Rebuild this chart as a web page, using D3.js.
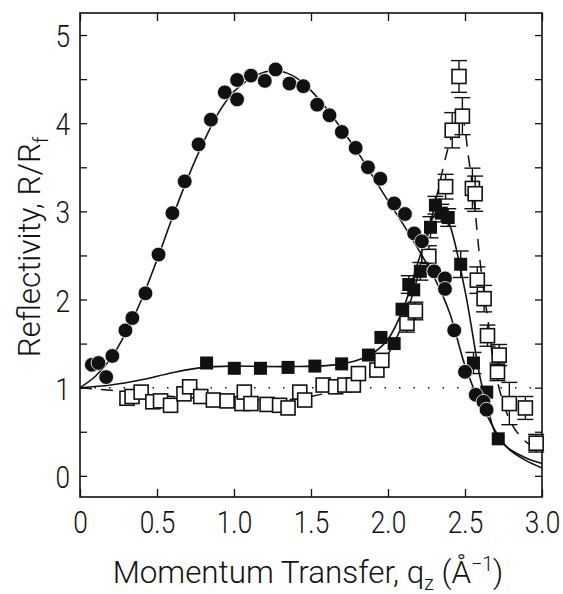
<!DOCTYPE html>
<html>
<head>
<meta charset="utf-8">
<script src="https://cdn.jsdelivr.net/npm/d3@7"></script>
<style>
  body { margin: 0; background: #fff; }
  text { font-family: Roboto, "DejaVu Sans", sans-serif; font-weight: 300; fill: #111; }
</style>
</head>
<body>
<div id="chart"></div>
<script>
// filled circles (sample 1) and its fit
var qCircle = [0.077, 0.12, 0.17, 0.21, 0.295, 0.34, 0.425, 0.51, 0.60, 0.68, 0.77, 0.85, 0.94, 1.02, 1.02, 1.11,
  1.20, 1.27, 1.36, 1.45, 1.54, 1.62, 1.70, 1.79, 1.87, 1.95, 2.04, 2.11, 2.17, 2.22, 2.30, 2.37, 2.37, 2.43,
  2.50, 2.57, 2.62, 2.64];
var rCircle = [1.26, 1.28, 1.12, 1.36, 1.65, 1.79, 2.07, 2.51, 2.98, 3.34, 3.76, 4.04, 4.35, 4.27, 4.49, 4.54,
  4.48, 4.61, 4.45, 4.42, 4.21, 4.09, 3.90, 3.72, 3.50, 3.37, 3.09, 2.97, 2.75, 2.66, 2.32, 2.24, 2.12, 1.65,
  1.18, 0.92, 0.84, 0.75];
var qCircleFit = [0, 0.1, 0.2, 0.3, 0.4, 0.5, 0.6, 0.7, 0.8, 0.9, 1.0, 1.1, 1.2, 1.3, 1.4, 1.5, 1.6, 1.7, 1.8,
  1.9, 2.0, 2.1, 2.2, 2.3, 2.4, 2.5, 2.6, 2.65, 2.7, 2.75, 2.8, 2.9, 3.0];
var rCircleFit = [1.0, 1.13, 1.33, 1.63, 2.0, 2.45, 2.93, 3.38, 3.78, 4.12, 4.36, 4.50, 4.58, 4.59, 4.52, 4.37,
  4.17, 3.93, 3.68, 3.40, 3.12, 2.85, 2.56, 2.25, 1.85, 1.25, 0.82, 0.66, 0.50, 0.37, 0.28, 0.17, 0.09];

// filled squares (sample 2) and its fit
var qSquare = [0.822, 1.002, 1.172, 1.351, 1.525, 1.699, 1.873, 1.954, 2.04, 2.091, 2.135, 2.167, 2.21, 2.276,
  2.308, 2.346, 2.391, 2.472, 2.555, 2.641, 2.716];
var rSquare = [1.28, 1.22, 1.22, 1.23, 1.245, 1.27, 1.37, 1.57, 1.50, 1.89, 2.17, 2.11, 2.32, 2.82,
  3.07, 2.98, 2.93, 2.40, 1.28, 0.95, 0.42];
var eSquare = [0, 0, 0, 0, 0, 0, 0, 0, 0, 0, 0.1, 0, 0.1, 0.12,
  0.1, 0.1, 0.1, 0.15, 0.12, 0, 0];
var qSquareFit = [0, 0.2, 0.4, 0.6, 0.8, 1.0, 1.2, 1.4, 1.6, 1.7, 1.8, 1.9, 2.0, 2.1, 2.2, 2.3, 2.35, 2.4,
  2.5, 2.6, 2.65, 2.7, 2.75, 2.8, 2.9, 3.0];
var rSquareFit = [1.0, 1.03, 1.09, 1.17, 1.23, 1.245, 1.24, 1.24, 1.25, 1.27, 1.31, 1.39, 1.55, 1.9, 2.45, 2.95,
  3.0, 2.85, 2.1, 1.1, 0.75, 0.47, 0.36, 0.29, 0.2, 0.14];

// open squares (sample 3) with error bars, and its dashed fit
var qOpen = [0.305, 0.338, 0.397, 0.473, 0.523, 0.588, 0.675, 0.712, 0.784, 0.866, 0.955, 1.052, 1.067, 1.11,
  1.215, 1.296, 1.351, 1.427, 1.459, 1.579, 1.66, 1.72, 1.775, 1.808, 1.928, 1.96, 2.123, 2.178, 2.265, 2.374,
  2.417, 2.461, 2.483, 2.548, 2.566, 2.58, 2.624, 2.646, 2.711, 2.722, 2.788, 2.892, 2.962];
var rOpen = [0.88, 0.90, 0.95, 0.84, 0.85, 0.80, 0.93, 1.01, 0.90, 0.86, 0.85, 0.82, 0.95, 0.82,
  0.81, 0.80, 0.77, 0.95, 0.86, 1.03, 1.01, 1.03, 1.03, 1.16, 1.20, 1.31, 1.73, 1.87, 2.49, 3.28,
  3.92, 4.53, 4.08, 3.26, 3.20, 2.22, 2.01, 1.59, 1.18, 1.37, 0.82, 0.77, 0.37];
var eOpen = [0, 0, 0, 0, 0, 0, 0, 0, 0, 0, 0, 0, 0, 0,
  0, 0, 0, 0, 0, 0, 0, 0, 0, 0, 0, 0, 0.1, 0.1, 0.12, 0.14,
  0.2, 0.18, 0.21, 0.23, 0.2, 0.15, 0.15, 0.12, 0.1, 0.12, 0.24, 0.13, 0.1];
var qOpenFit = [0, 0.2, 0.4, 0.6, 0.8, 1.0, 1.2, 1.4, 1.5, 1.6, 1.7, 1.8, 1.9, 2.0, 2.1, 2.2, 2.3, 2.4, 2.45,
  2.48, 2.52, 2.56, 2.6, 2.65, 2.7, 2.8, 2.9, 3.0];
var rOpenFit = [1.0, 0.97, 0.93, 0.9, 0.88, 0.87, 0.86, 0.87, 0.9, 0.94, 1.0, 1.08, 1.17, 1.38, 1.75, 2.3,
  3.05, 3.78, 4.02, 4.05, 3.65, 3.1, 2.4, 1.75, 1.15, 0.6, 0.38, 0.3];

var xTicks = [0, 0.5, 1.0, 1.5, 2.0, 2.5, 3.0];
var xTickLabels = ["0", "0.5", "1.0", "1.5", "2.0", "2.5", "3.0"];
var yTicks = [0, 0.5, 1, 1.5, 2, 2.5, 3, 3.5, 4, 4.5, 5];
var yTickLabels = ["0", "", "1", "", "2", "", "3", "", "4", "", "5"];

var W = 563, H = 594;
var pLeft = 80, pRight = 542, pTop = 13, pBottom = 497;
var squeeze = 0.82;    // tick numbers are narrow
var titleSqueeze = 0.98;

var svg = d3.select("#chart").append("svg")
  .attr("width", W).attr("height", H);

var x = d3.scaleLinear().domain([0, 3]).range([pLeft, pRight]);
var y = d3.scaleLinear().domain([-0.24, 5.25]).range([pBottom, pTop]);

function zip(a, b) { return a.map(function(v, i) { return [v, b[i]]; }); }

// axes, ticks inward
var gx = svg.append("g").attr("transform", "translate(0," + pBottom + ")")
  .call(d3.axisBottom(x).tickValues(xTicks).tickSize(-8).tickPadding(14)
    .tickFormat(function(d, i) { return xTickLabels[i]; }));
svg.append("g").attr("transform", "translate(0," + pTop + ")")
  .call(d3.axisTop(x).tickValues(xTicks).tickSize(-8).tickFormat(""));
var gy = svg.append("g").attr("transform", "translate(" + pLeft + ",0)")
  .call(d3.axisLeft(y).tickValues(yTicks).tickSize(-7).tickPadding(10)
    .tickFormat(function(d, i) { return yTickLabels[i]; }));
svg.append("g").attr("transform", "translate(" + pRight + ",0)")
  .call(d3.axisRight(y).tickValues(yTicks).tickSize(-7).tickFormat(""));

svg.selectAll(".domain").remove();
svg.selectAll(".tick line").style("stroke", "#111").style("stroke-width", 1.3);
gx.selectAll(".tick text")
  .style("font-size", "32px")
  .attr("dy", null).attr("y", 0)
  .attr("transform", "translate(0,36) scale(" + squeeze + ",1)");
gy.selectAll(".tick text")
  .style("font-size", "32px")
  .attr("x", 0).attr("dy", "0.36em")
  .attr("transform", "translate(-10,0) scale(" + squeeze + ",1)");

svg.append("rect")
  .attr("x", pLeft).attr("y", pTop)
  .attr("width", pRight - pLeft).attr("height", pBottom - pTop)
  .style("fill", "none").style("stroke", "#111").style("stroke-width", 1.6);

// reference line at R/Rf = 1
svg.append("line")
  .attr("x1", x(0)).attr("x2", x(3)).attr("y1", y(1)).attr("y2", y(1))
  .style("stroke", "#111").style("stroke-width", 1.6)
  .style("stroke-dasharray", "1.5,13");

var line = d3.line()
  .x(function(d) { return x(d[0]); })
  .y(function(d) { return y(d[1]); })
  .curve(d3.curveCatmullRom);

var plot = svg.append("g");

// draws vertical error bar with caps, skipped where error is zero
function errorBars(g) {
  var withErr = g.filter(function(d) { return d.e > 0; });
  withErr.append("line")
    .attr("x1", function(d) { return x(d.q); }).attr("x2", function(d) { return x(d.q); })
    .attr("y1", function(d) { return y(d.r - d.e); }).attr("y2", function(d) { return y(d.r + d.e); });
  withErr.append("line")
    .attr("x1", function(d) { return x(d.q) - 8; }).attr("x2", function(d) { return x(d.q) + 8; })
    .attr("y1", function(d) { return y(d.r + d.e); }).attr("y2", function(d) { return y(d.r + d.e); });
  withErr.append("line")
    .attr("x1", function(d) { return x(d.q) - 8; }).attr("x2", function(d) { return x(d.q) + 8; })
    .attr("y1", function(d) { return y(d.r - d.e); }).attr("y2", function(d) { return y(d.r - d.e); });
  g.selectAll("line").style("stroke", "#111").style("stroke-width", 1.4);
}

// dashed fit for open squares
plot.append("path")
  .attr("d", line(zip(qOpenFit, rOpenFit)))
  .style("fill", "none").style("stroke", "#111").style("stroke-width", 1.5)
  .style("stroke-dasharray", "12,9");

// error bars + open squares
var openData = qOpen.map(function(q, i) { return { q: q, r: rOpen[i], e: eOpen[i] }; });
var eb = plot.selectAll(".ebOpen").data(openData).enter().append("g").attr("class", "ebOpen");
errorBars(eb);
eb.append("rect")
  .attr("x", function(d) { return x(d.q) - 7; }).attr("y", function(d) { return y(d.r) - 7; })
  .attr("width", 14).attr("height", 14)
  .style("fill", "#fff").style("stroke", "#111").style("stroke-width", 1.6);

// filled squares with their error bars and fit
var sqData = qSquare.map(function(q, i) { return { q: q, r: rSquare[i], e: eSquare[i] }; });
var es = plot.selectAll(".ebSq").data(sqData).enter().append("g").attr("class", "ebSq");
errorBars(es);
plot.append("path")
  .attr("d", line(zip(qSquareFit, rSquareFit)))
  .style("fill", "none").style("stroke", "#111").style("stroke-width", 1.6);
es.append("rect")
  .attr("x", function(d) { return x(d.q) - 6.5; }).attr("y", function(d) { return y(d.r) - 6.5; })
  .attr("width", 13).attr("height", 13)
  .style("fill", "#111");

// filled circles and fit
plot.append("path")
  .attr("d", line(zip(qCircleFit, rCircleFit)))
  .style("fill", "none").style("stroke", "#111").style("stroke-width", 1.6);
plot.selectAll(".circ").data(zip(qCircle, rCircle)).enter().append("circle")
  .attr("class", "circ")
  .attr("cx", function(d) { return x(d[0]); })
  .attr("cy", function(d) { return y(d[1]); })
  .attr("r", 7.4)
  .style("fill", "#111").style("stroke", "#fff").style("stroke-width", 0.8);

// axis titles
var xt = svg.append("text")
  .attr("text-anchor", "middle")
  .attr("transform", "translate(308,583) scale(" + titleSqueeze + ",1)")
  .style("font-size", "32px");
xt.append("tspan").text("Momentum Transfer, q");
xt.append("tspan").attr("dy", 7).style("font-size", "20px").text("z");
xt.append("tspan").attr("dy", -7).text("  (Å");
xt.append("tspan").attr("dy", -12).style("font-size", "20px").text("−1");
xt.append("tspan").attr("dy", 12).text(")");

var yt = svg.append("text")
  .attr("text-anchor", "middle")
  .attr("transform", "translate(40,247) rotate(-90) scale(" + titleSqueeze + ",1)")
  .style("font-size", "32px");
yt.append("tspan").text("Reflectivity,  R/R");
yt.append("tspan").attr("dy", 8).style("font-size", "20px").text("f");
</script>
</body>
</html>
